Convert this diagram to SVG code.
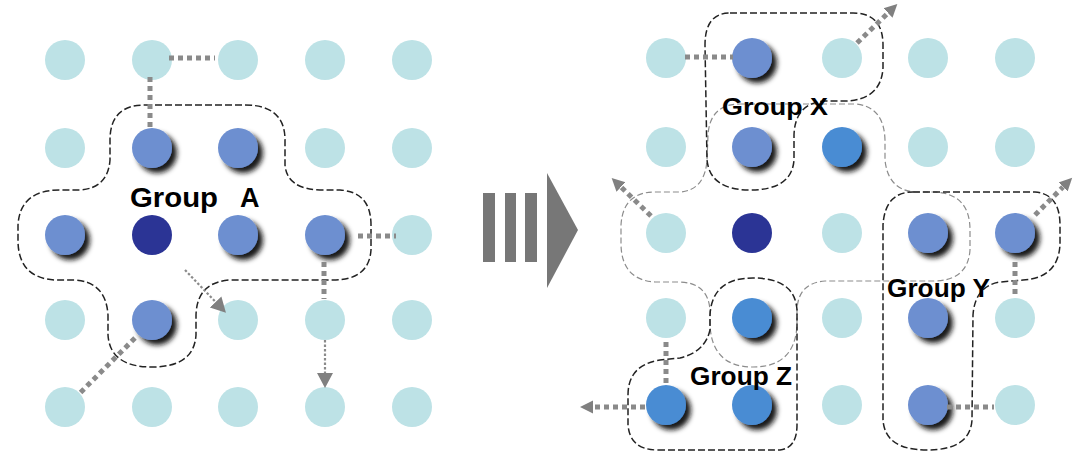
<svg xmlns="http://www.w3.org/2000/svg" width="1081" height="455" viewBox="0 0 1081 455">
<style>
.l{fill:#bde2e6}
.m{fill:#6d8fd0}
.b{fill:#4a8cd3}
.n{fill:#2b3495}
.sh{filter:url(#shadow)}
.dot{stroke:#8a8a8a;stroke-width:5;stroke-dasharray:5 4;fill:none}
.thin{stroke:#8a8a8a;stroke-width:2.2;stroke-dasharray:2.5 2;fill:none}
.grp{fill:none;stroke:#222;stroke-width:1.5;stroke-dasharray:7 3}
.gry{fill:none;stroke:#8c8c8c;stroke-width:1.2;stroke-dasharray:6 3}
.lbl{font-family:"Liberation Sans",Arial,sans-serif;font-weight:bold;fill:#000}
</style>
<defs>
<filter id="shadow" x="-40%" y="-40%" width="200%" height="200%">
<feGaussianBlur in="SourceAlpha" stdDeviation="2.8" result="b"/>
<feOffset in="b" dx="5" dy="5" result="o"/>
<feFlood flood-color="#111" flood-opacity="0.95"/>
<feComposite in2="o" operator="in" result="s"/>
<feMerge><feMergeNode in="s"/><feMergeNode in="SourceGraphic"/></feMerge>
</filter>
<marker id="ah" markerUnits="userSpaceOnUse" markerWidth="16" markerHeight="16" viewBox="0 -8 16 16" refX="0" refY="0" orient="auto">
<path d="M0,-6.5 L13,0 L0,6.5 Z" fill="#808080"/>
</marker>
<marker id="ah2" markerUnits="userSpaceOnUse" markerWidth="18" markerHeight="18" viewBox="0 -9 18 18" refX="0" refY="0" orient="auto">
<path d="M0,-8 L15,0 L0,8 Z" fill="#808080"/>
</marker>
</defs>
<rect width="1081" height="455" fill="#fff"/>

<g id="left-grid">
<circle class="l" cx="65" cy="60" r="20"/><circle class="l" cx="152" cy="60" r="20"/><circle class="l" cx="238" cy="60" r="20"/><circle class="l" cx="325" cy="60" r="20"/><circle class="l" cx="412" cy="60" r="20"/>
<circle class="l" cx="65" cy="148" r="20"/><circle class="m sh" cx="152" cy="148" r="20"/><circle class="m sh" cx="238" cy="148" r="20"/><circle class="l" cx="325" cy="148" r="20"/><circle class="l" cx="412" cy="148" r="20"/>
<circle class="m sh" cx="65" cy="235" r="20"/><circle class="n" cx="152" cy="235" r="20"/><circle class="m sh" cx="238" cy="235" r="20"/><circle class="m sh" cx="325" cy="235" r="20"/><circle class="l" cx="412" cy="235" r="20"/>
<circle class="l" cx="65" cy="320" r="20"/><circle class="m sh" cx="152" cy="320" r="20"/><circle class="l" cx="238" cy="320" r="20"/><circle class="l" cx="325" cy="320" r="20"/><circle class="l" cx="412" cy="320" r="20"/>
<circle class="l" cx="65" cy="407" r="20"/><circle class="l" cx="152" cy="407" r="20"/><circle class="l" cx="238" cy="407" r="20"/><circle class="l" cx="325" cy="407" r="20"/><circle class="l" cx="412" cy="407" r="20"/>
</g>

<g id="right-grid">
<circle class="l" cx="666" cy="58" r="20"/><circle class="m sh" cx="752" cy="58" r="20"/><circle class="l" cx="842" cy="58" r="20"/><circle class="l" cx="928" cy="58" r="20"/><circle class="l" cx="1015" cy="58" r="20"/>
<circle class="l" cx="666" cy="147" r="20"/><circle class="m sh" cx="752" cy="147" r="20"/><circle class="b sh" cx="842" cy="147" r="20"/><circle class="l" cx="928" cy="147" r="20"/><circle class="l" cx="1015" cy="147" r="20"/>
<circle class="l" cx="666" cy="233" r="20"/><circle class="n" cx="752" cy="233" r="20"/><circle class="l" cx="842" cy="233" r="20"/><circle class="m sh" cx="928" cy="233" r="20"/><circle class="m sh" cx="1015" cy="233" r="20"/>
<circle class="l" cx="666" cy="318" r="20"/><circle class="b sh" cx="752" cy="318" r="20"/><circle class="l" cx="842" cy="318" r="20"/><circle class="m sh" cx="928" cy="318" r="20"/><circle class="l" cx="1015" cy="318" r="20"/>
<circle class="b sh" cx="666" cy="405" r="20"/><circle class="b sh" cx="752" cy="405" r="20"/><circle class="l" cx="842" cy="405" r="20"/><circle class="m sh" cx="928" cy="405" r="20"/><circle class="l" cx="1015" cy="405" r="20"/>
</g>

<g id="group-a">
<path class="grp" d="M145,105 L245,105 Q285,105 285,140 L285,165 Q287,189 320,190 L340,190 Q371,192 371,225 L371,250 Q369,280 333,280 L230,280 Q197,282 196,315 L196,335 Q194,367 152,367 Q110,367 108,335 L108,315 Q106,282 75,280 L55,280 Q19,278 18,242 L18,225 Q20,190 60,190 L80,190 Q108,188 110,160 L110,140 Q110,105 145,105 Z"/>
<text class="lbl" x="130" y="207" font-size="27"><tspan textLength="88" lengthAdjust="spacingAndGlyphs">Group</tspan><tspan x="240">A</tspan></text>
</g>

<g id="group-a-mapped">
<path class="gry" d="M740,104 L855,104 Q884,106 885,140 L885,160 Q888,190 915,192 L935,192 Q970,194 970,230 L970,250 Q968,280 935,281 L825,281 Q798,283 797,310 L797,325 Q795,367 753,367 Q712,367 710,325 L710,310 Q708,283 680,282 L655,282 Q622,280 621,245 L621,225 Q623,192 655,192 L680,192 Q705,190 707,160 L708,135 Q710,104 740,104 Z"/>
</g>

<g id="group-x">
<path class="grp" d="M730,13 L853,13 Q883,13 883,45 L883,68 Q881,100 845,101 L825,101 Q795,103 794,135 L794,160 Q792,190 750,190 Q710,190 707,160 L705,45 Q705,13 730,13 Z"/>
<text class="lbl" x="722" y="115" font-size="24" textLength="106" lengthAdjust="spacingAndGlyphs">Group X</text>
</g>

<g id="group-y">
<path class="grp" d="M913,192 L1035,192 Q1060,194 1060,225 L1060,245 Q1058,278 1023,280 L1000,282 Q975,286 973,315 L972,420 Q970,450 927,450 Q885,450 883,420 L883,225 Q885,192 913,192 Z"/>
<text class="lbl" x="887" y="297" font-size="25" textLength="103" lengthAdjust="spacingAndGlyphs">Group Y</text>
</g>

<g id="group-z">
<path class="grp" d="M658,450 L780,450 Q797,448 797,425 L797,310 Q795,278 753,278 Q712,278 710,315 L710,330 Q705,352 680,358 L660,360 Q628,365 628,395 L628,425 Q630,450 658,450 Z"/>
<text class="lbl" x="690" y="385" font-size="25" textLength="102" lengthAdjust="spacingAndGlyphs">Group Z</text>
</g>

<g id="transition-arrow" fill="#777">
<rect x="483" y="193" width="12" height="69"/>
<rect x="505" y="193" width="11" height="69"/>
<rect x="525" y="193" width="12" height="69"/>
<path d="M547,173 L578,230 L547,288 Z"/>
</g>

<g id="connectors">
<path class="dot" d="M150,77 L150,128"/>
<path class="dot" d="M169,58 L215,58"/>
<path class="dot" d="M358,236 L396,236"/>
<path class="dot" d="M324,262 L324,299"/>
<path class="dot" d="M135,338 L80,393"/>
<path class="thin" d="M185,270 L215.6,302" marker-end="url(#ah2)"/>
<path class="thin" d="M325,340 L325,373" marker-end="url(#ah2)"/>

<path class="dot" d="M685,57 L733,57"/>
<path class="dot" d="M857,43 L888,13" marker-end="url(#ah)"/>
<path class="dot" d="M651,216 L621,187" marker-end="url(#ah)"/>
<path class="dot" d="M1035,215 L1063,187" marker-end="url(#ah)"/>
<path class="dot" d="M1015,262 L1015,298"/>
<path class="dot" d="M666,342 L666,384"/>
<path class="dot" d="M645,407 L593,407" marker-end="url(#ah)"/>
<path class="dot" d="M947,407 L994,407"/>
</g>
</svg>
